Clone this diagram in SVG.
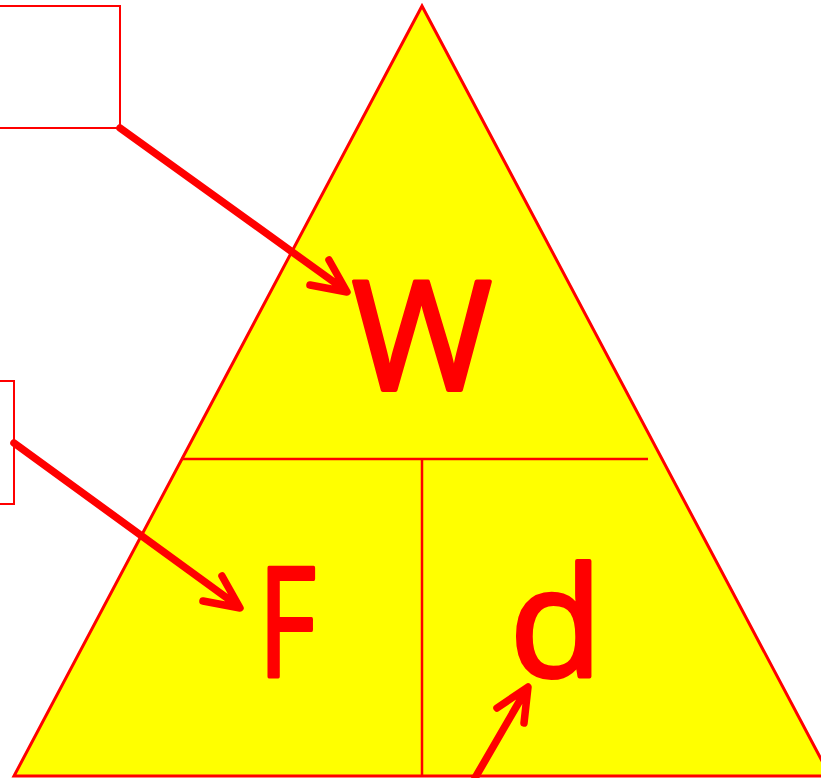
<svg xmlns="http://www.w3.org/2000/svg" width="821" height="778" viewBox="0 0 821 778">
<style>
.lbl{font-family:"Open Sans","Liberation Sans",sans-serif;fill:#FF0000;text-anchor:middle;stroke:#FF0000;stroke-width:4;stroke-linejoin:round}
.ln{stroke:#FF0000;stroke-width:2.5;fill:none}
.arr{stroke:#FF0000;stroke-width:7.5;fill:none;stroke-linecap:round;stroke-linejoin:round}
</style>
<rect width="821" height="778" fill="#FFFFFF"/>
<g id="triangle">
<polygon points="422,6 14,776 830,776" fill="#FFFF00" stroke="#FF0000" stroke-width="3"/>
<line class="ln" x1="181" y1="459" x2="648" y2="459"/>
<line class="ln" x1="422" y1="459" x2="422" y2="776"/>
</g>
<g id="node-W"><text class="lbl" x="422" y="390" font-size="152">W</text></g>
<g id="node-F"><text class="lbl" x="287" y="677" font-size="152" textLength="58" lengthAdjust="spacingAndGlyphs">F</text></g>
<g id="node-d"><text class="lbl" x="556" y="677" font-size="152">d</text></g>
<g id="box1"><rect x="-10" y="6" width="130" height="122" fill="none" stroke="#FF0000" stroke-width="2"/></g>
<g id="box2"><rect x="-10" y="381" width="24" height="123" fill="none" stroke="#FF0000" stroke-width="2"/></g>
<g id="connectors">
<path class="arr" d="M120,128 L345,290 M329,260 L347,292 L310,285"/>
<path class="arr" d="M14,443 L238,606 M222,576 L240,608 L203,601"/>
<path class="arr" d="M475,778 L526,690 M497,708 L528,687 L524,723"/>
</g>
</svg>
